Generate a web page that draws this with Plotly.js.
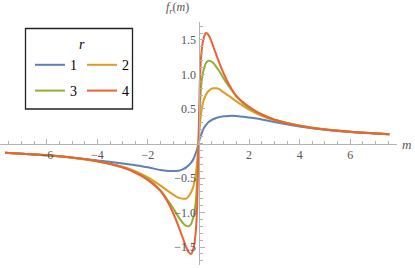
<!DOCTYPE html>
<html>
<head>
<meta charset="utf-8">
<script src="https://cdn.plot.ly/plotly-3.0.1.min.js"></script>
<style>html,body{margin:0;padding:0;background:#fff;}#chart{width:415px;height:268px;}</style>
</head>
<body>
<div id="chart"></div>
<script>
// m values (x)
var mVals = [-7.65,-6,-5,-4,-3,-2.5,-2,-1.5,-1.2,-1,-0.8,-0.7,-0.6,-0.5,-0.4,-0.3,-0.25,-0.2,-0.15,-0.1,-0.05,
  0,
  0.05,0.1,0.15,0.2,0.25,0.3,0.4,0.5,0.6,0.7,0.8,1,1.2,1.5,2,2.5,3,4,5,6,7.55];

// f_r(m) for r = 1..4
var fR1 = [-0.133,-0.172,-0.205,-0.245,-0.29,-0.315,-0.345,-0.385,-0.398,-0.40,-0.395,-0.385,-0.37,-0.35,-0.32,-0.28,-0.255,-0.225,-0.18,-0.13,-0.075,
  0,
  0.07,0.12,0.17,0.215,0.245,0.27,0.31,0.335,0.355,0.37,0.38,0.395,0.40,0.398,0.375,0.348,0.31,0.245,0.20,0.168,0.135];
var fR2 = [-0.133,-0.17,-0.206,-0.26,-0.336,-0.40,-0.49,-0.61,-0.69,-0.74,-0.785,-0.795,-0.80,-0.80,-0.77,-0.71,-0.67,-0.62,-0.54,-0.43,-0.24,
  0,
  0.24,0.43,0.54,0.62,0.67,0.71,0.76,0.79,0.80,0.80,0.79,0.74,0.69,0.61,0.49,0.40,0.336,0.26,0.206,0.17,0.133];
var fR3 = [-0.133,-0.17,-0.203,-0.258,-0.35,-0.42,-0.515,-0.68,-0.83,-0.94,-1.06,-1.11,-1.16,-1.19,-1.20,-1.17,-1.125,-1.065,-0.97,-0.81,-0.51,
  0,
  0.51,0.81,0.97,1.065,1.125,1.17,1.20,1.19,1.16,1.11,1.06,0.94,0.83,0.68,0.515,0.42,0.35,0.258,0.203,0.17,0.133];
var fR4 = [-0.133,-0.17,-0.203,-0.255,-0.345,-0.42,-0.53,-0.69,-0.86,-1.01,-1.19,-1.29,-1.39,-1.49,-1.57,-1.60,-1.58,-1.52,-1.42,-1.24,-0.86,
  0,
  0.86,1.24,1.42,1.52,1.58,1.60,1.57,1.49,1.39,1.29,1.19,1.01,0.86,0.69,0.53,0.42,0.345,0.255,0.203,0.17,0.133];

var seriesNames = ['1','2','3','4'];
var seriesData = [fR1, fR2, fR3, fR4];
var seriesColors = ['#5E81B5','#E19C24','#8FB032','#EB6235'];
var seriesLegend = ['legend','legend','legend2','legend2'];

var xTickVals = [-6,-4,-2,2,4,6];
var xTickText = ['\u22126','\u22124','\u22122','2','4','6'];
var yTickVals = [-1.5,-1,-0.5,0.5,1,1.5];
var yTickText = ['\u22121.5','\u22121.0','\u22120.5','0.5','1.0','1.5'];

var serif = '"Liberation Serif", "Times New Roman", serif';
var axisCol = '#b3b3b3';
var tickFont = {family: serif, size: 12, color: '#555'};

var traces = seriesData.map(function(ys, i){
  return {
    x: mVals, y: ys, type: 'scatter', mode: 'lines',
    name: seriesNames[i], legend: seriesLegend[i],
    line: {color: seriesColors[i], width: 2, shape: 'spline', smoothing: 0.8},
    hoverinfo: 'skip'
  };
});

var W = 397, plotTop = 22, plotBot = 265, H = plotBot - plotTop;
function px(xp){ return xp / W; }
function py(yp){ return (plotBot - yp) / H; }

var layout = {
  width: 415, height: 268,
  margin: {l: 0, r: 18, t: 22, b: 3, pad: 0},
  paper_bgcolor: '#fff', plot_bgcolor: '#fff',
  font: {family: serif},
  showlegend: true,
  xaxis: {
    range: [-7.85, 7.85], anchor: 'free', position: 0.5,
    showline: true, linecolor: axisCol, linewidth: 1,
    showgrid: false, zeroline: false,
    ticks: 'inside', ticklen: 5, tickcolor: axisCol, tickwidth: 1,
    tickmode: 'array', tickvals: xTickVals, ticktext: xTickText,
    tickfont: tickFont,
    minor: {tickmode: 'linear', tick0: 0, dtick: 0.5, ticks: 'inside', ticklen: 3, tickcolor: axisCol, showgrid: false}
  },
  yaxis: {
    range: [-1.76, 1.76], anchor: 'free', position: 0.5,
    showline: true, linecolor: axisCol, linewidth: 1,
    showgrid: false, zeroline: false,
    ticks: 'inside', ticklen: 5, tickcolor: axisCol, tickwidth: 1,
    tickmode: 'array', tickvals: yTickVals, ticktext: yTickText,
    tickfont: tickFont,
    minor: {tickmode: 'linear', tick0: 0, dtick: 0.1, ticks: 'inside', ticklen: 3, tickcolor: axisCol, showgrid: false}
  },
  legend: {
    orientation: 'h', x: px(30), y: py(31), xanchor: 'left', yanchor: 'top',
    bgcolor: 'rgba(0,0,0,0)', borderwidth: 0,
    font: {family: serif, size: 14, color: '#000'},
    title: {text: '<i>r</i>', side: 'top center', font: {family: serif, size: 14, color: '#000'}},
    traceorder: 'normal'
  },
  legend2: {
    orientation: 'h', x: px(30), y: py(75), xanchor: 'left', yanchor: 'top',
    bgcolor: 'rgba(0,0,0,0)', borderwidth: 0,
    font: {family: serif, size: 14, color: '#000'},
    traceorder: 'normal'
  },
  shapes: [{
    type: 'rect', xref: 'paper', yref: 'paper',
    x0: px(25.5), x1: px(132.5), y0: py(109), y1: py(28.5),
    line: {color: '#222', width: 1.3}, fillcolor: 'rgba(0,0,0,0)'
  }],
  annotations: [
    {text: '<i>m</i>', xref: 'paper', yref: 'paper', x: px(407), y: py(144),
     xanchor: 'center', yanchor: 'middle', showarrow: false,
     font: {family: serif, size: 13, color: '#555'}},
    {text: '<i>f</i><sub><i>r</i></sub>(<i>m</i>)', xref: 'x', yref: 'paper', x: -0.85, y: py(8),
     xanchor: 'center', yanchor: 'middle', showarrow: false,
     font: {family: serif, size: 12, color: '#555'}}
  ]
};

Plotly.newPlot('chart', traces, layout, {displayModeBar: false, staticPlot: true});
</script>
</body>
</html>
